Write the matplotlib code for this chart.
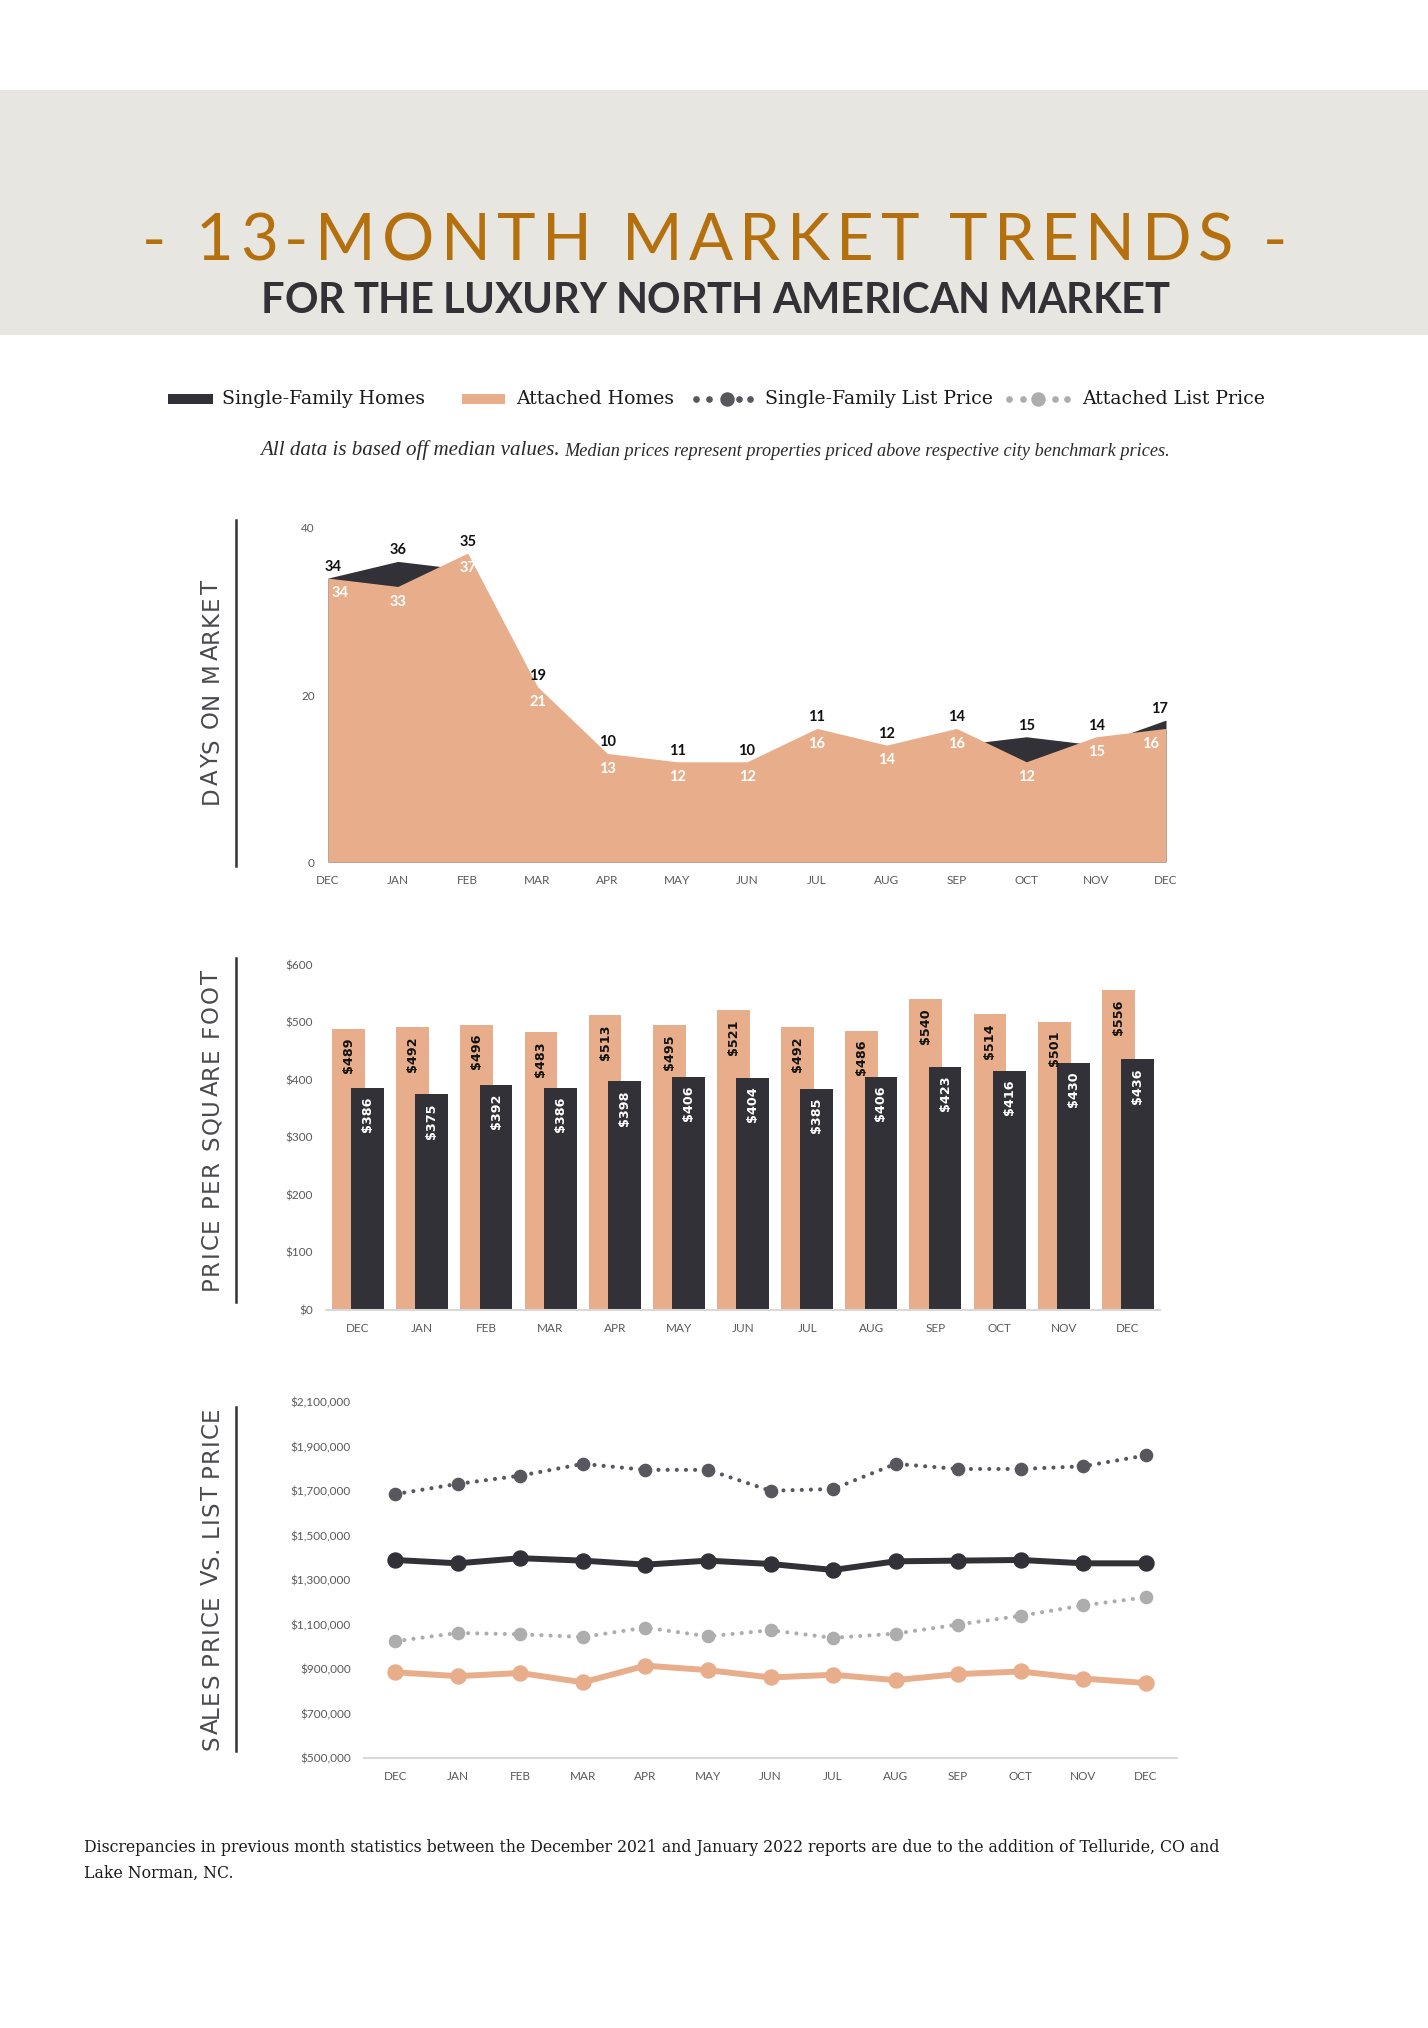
import numpy as np
import matplotlib
matplotlib.use('Agg')
import matplotlib.pyplot as plt
from matplotlib.patches import Rectangle

months = ['DEC', 'JAN', 'FEB', 'MAR', 'APR', 'MAY', 'JUN', 'JUL', 'AUG', 'SEP', 'OCT', 'NOV', 'DEC']

# days on market
dom_single = [34, 36, 35, 19, 10, 11, 10, 11, 12, 14, 15, 14, 17]
dom_attached = [34, 33, 37, 21, 13, 12, 12, 16, 14, 16, 12, 15, 16]

# price per square foot
ppsf_attached = [489, 492, 496, 483, 513, 495, 521, 492, 486, 540, 514, 501, 556]
ppsf_single = [386, 375, 392, 386, 398, 406, 404, 385, 406, 423, 416, 430, 436]

# sales price vs list price (thousands)
list_single = [1686, 1732, 1769, 1822, 1795, 1795, 1701, 1709, 1822, 1799, 1799, 1811, 1860]
sale_single = [1390, 1375, 1398, 1387, 1369, 1387, 1372, 1345, 1384, 1387, 1390, 1375, 1375]
list_attached = [1025, 1062, 1056, 1044, 1086, 1047, 1074, 1040, 1059, 1100, 1139, 1186, 1222]
sale_attached = [885, 868, 882, 840, 915, 895, 862, 874, 850, 877, 889, 857, 837]

DARK = '#323137'
PEACH = '#E8AE8C'
GOLD = '#B5700E'
SF_LIST = '#58575E'
ATT_LIST = '#ADADAD'
TICK = '#595959'
LABEL = '#4A494E'

W, H = 1428, 2028
plt.rcParams['font.family'] = 'Lato'
fig = plt.figure(figsize=(W / 100, H / 100), dpi=100)
renderer = fig.canvas.get_renderer()

# page layer in pixel coordinates
page = fig.add_axes([0, 0, 1, 1])
page.set_xlim(0, W)
page.set_ylim(H, 0)
page.axis('off')


def box(left, top, right, bottom):
    return [left / W, 1 - bottom / H, (right - left) / W, (bottom - top) / H]


def char_widths(s, **kw):
    def w(t):
        a = page.text(0, 0, t, **kw)
        ext = a.get_window_extent(renderer).width
        a.remove()
        return ext
    base = w('ll')
    return [w('l' + c + 'l') - base for c in s]


def spaced(x, y, s, length, rot=0, **kw):
    ws = char_widths(s, **kw)
    gap = (length - sum(ws)) / (len(s) - 1)
    pos = -length / 2
    for c, cw in zip(s, ws):
        if rot == 0:
            page.text(x + pos, y, c, ha='left', va='baseline', **kw)
        else:
            page.text(x, y - pos, c, ha='left', va='baseline', rotation=90,
                      rotation_mode='anchor', **kw)
        pos += cw + gap


def fitted(x, y, s, width, **kw):
    t = page.text(x, y, s, ha='left', va='center', **kw)
    cur = t.get_window_extent(renderer).width
    t.set_fontsize(t.get_fontsize() * width / cur)
    return t


# header
page.add_patch(Rectangle((0, 90), W, 245, color='#E8E6E1', lw=0))
spaced(714.5, 260.5, '- 13-MONTH MARKET TRENDS -', 1145, fontsize=47,
       fontweight='normal', color=GOLD)
spaced(715, 313, 'FOR THE LUXURY NORTH AMERICAN MARKET', 908, fontsize=30,
       fontweight='bold', color='#333136')

# legend row
leg = dict(fontsize=13.6, family='DejaVu Serif', color='#1a1a1a', va='center', ha='left')
page.add_patch(Rectangle((168, 394), 45, 10, color=DARK, lw=0))
page.text(222, 399, 'Single-Family Homes', **leg)
page.add_patch(Rectangle((462, 394), 43, 10, color=PEACH, lw=0))
page.text(516, 399, 'Attached Homes', **leg)
page.plot([696, 709, 739, 750], [399] * 4, 'o', ms=3.8, color=SF_LIST)
page.plot([727], [399], 'o', ms=9.4, color=SF_LIST)
page.text(765, 399, 'Single-Family List Price', **leg)
page.plot([1009, 1023, 1055, 1067], [399] * 4, 'o', ms=3.8, color=ATT_LIST)
page.plot([1038], [399], 'o', ms=9.4, color=ATT_LIST)
page.text(1082, 399, 'Attached List Price', **leg)

note = dict(family='Liberation Serif', style='italic', color='#2a2a2a', fontsize=14)
fitted(260, 450, 'All data is based off median values.', 299, **note)
fitted(564, 451, 'Median prices represent properties priced above respective city benchmark prices.',
       604, **note)

# side labels
side = dict(fontsize=16.5, color=LABEL, family='DejaVu Sans')
for y0, y1 in [(520, 866), (958, 1302), (1407, 1751)]:
    page.plot([236, 236], [y0, y1], color=DARK, lw=1.8)
spaced(218, 692, 'DAYS ON MARKET', 225, rot=90, **side)
spaced(218, 1130, 'PRICE PER SQUARE FOOT', 320, rot=90, **side)
spaced(218, 1578, 'SALES PRICE VS. LIST PRICE', 343, rot=90, **side)

x = np.arange(len(months))


def style(ax):
    for sp in ax.spines.values():
        sp.set_visible(False)
    ax.tick_params(length=0, labelsize=8.5, labelcolor=TICK)
    ax.tick_params(axis='x', pad=9)
    ax.tick_params(axis='y', pad=9.5)
    ax.set_xticks(x, months)


# days on market
ax1 = fig.add_axes(box(328, 528, 1166, 862))
ax1.fill_between(x, dom_single, color=DARK, lw=0)
ax1.fill_between(x, dom_attached, color=PEACH, lw=0)
ax1.set_xlim(0, 12)
ax1.set_ylim(0, 40)
style(ax1)
ax1.set_yticks([0, 20, 40])
n = len(x)
for i, (s, a) in enumerate(zip(dom_single, dom_attached)):
    dx_dark = 3.5 if i == 0 else (-5 if i == n - 1 else 0)
    dx_white = 9 if i == 0 else (-11 if i == n - 1 else 0)
    ax1.annotate(str(s), (i, max(s, a)), xytext=(dx_dark, 8), textcoords='offset points',
                 ha='center', va='center', fontsize=10.5, fontweight='bold', color='#111111')
    ax1.annotate(str(a), (i, a), xytext=(dx_white, -11), textcoords='offset points',
                 ha='center', va='center', fontsize=10.5, fontweight='bold', color='white')

# price per square foot
ax2 = fig.add_axes(box(326, 965, 1160, 1310))
ax2.bar(x - 0.15, ppsf_attached, 0.51, color=PEACH)
ax2.bar(x + 0.15, ppsf_single, 0.51, color=DARK)
ax2.set_xlim(-0.5, 12.5)
ax2.set_ylim(0, 600)
style(ax2)
ax2.spines['bottom'].set_visible(True)
ax2.spines['bottom'].set_color('#D9D9D9')
ax2.spines['bottom'].set_linewidth(1.5)
ax2.set_yticks(range(0, 601, 100), [f'${v}' for v in range(0, 601, 100)])
bl = dict(textcoords='offset points', rotation=90, ha='center', va='top',
          fontsize=9.2, fontweight='bold', family='DejaVu Sans')
for i, v in enumerate(ppsf_attached):
    ax2.annotate(f'${v}', (i - 0.15, v), xytext=(0, -6.5), color='#111111', **bl)
for i, v in enumerate(ppsf_single):
    ax2.annotate(f'${v}', (i + 0.15, v), xytext=(0, -6.5), color='white', **bl)

# sales vs list price
ax3 = fig.add_axes(box(364, 1402, 1177, 1758))
dots = (0, (0.001, 2.2))
ax3.plot(x, np.array(list_single) * 1000, color=SF_LIST, lw=3, ls=dots,
         dash_capstyle='round', marker='o', ms=8.8)
ax3.plot(x, np.array(sale_single) * 1000, color=DARK, lw=4.3, marker='o', ms=10.8)
ax3.plot(x, np.array(list_attached) * 1000, color=ATT_LIST, lw=3, ls=dots,
         dash_capstyle='round', marker='o', ms=8.8)
ax3.plot(x, np.array(sale_attached) * 1000, color=PEACH, lw=4.3, marker='o', ms=10.8)
ax3.set_xlim(-0.5, 12.5)
ax3.set_ylim(500000, 2100000)
style(ax3)
ax3.spines['bottom'].set_visible(True)
ax3.spines['bottom'].set_color('#D9D9D9')
ax3.spines['bottom'].set_linewidth(1.5)
yt = list(range(500000, 2100001, 200000))
ax3.set_yticks(yt, [f'${v:,}' for v in yt])

# footnote
foot = dict(family='DejaVu Serif', color='#1a1a1a', fontsize=10.5)
t = fitted(84, 1847, 'Discrepancies in previous month statistics between the December 2021 and '
           'January 2022 reports are due to the addition of Telluride, CO and', 1146, **foot)
page.text(84, 1873, 'Lake Norman, NC.', ha='left', va='center', family='DejaVu Serif',
          color='#1a1a1a', fontsize=t.get_fontsize())

fig.savefig('out.png', dpi=100, facecolor='white')
